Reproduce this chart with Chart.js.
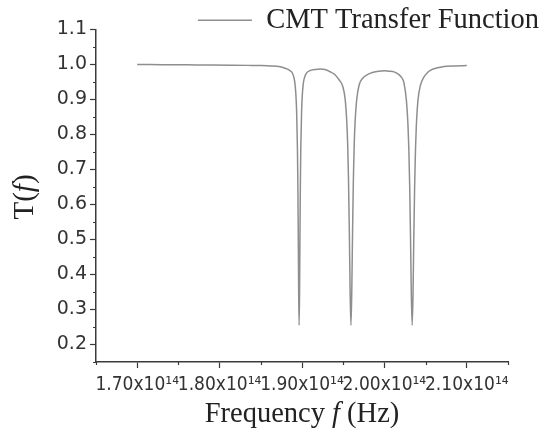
<!DOCTYPE html>
<html><head><meta charset="utf-8">
<script src="https://cdn.jsdelivr.net/npm/chart.js@4.4.0/dist/chart.umd.min.js"></script>
<style>html,body{margin:0;padding:0;background:#fff;}#wrap{width:544px;height:434px;position:relative;}</style>
</head><body><div id="wrap"><canvas id="c" width="544" height="434"></canvas></div>
<script>
// Frequency in units of 10^14 Hz
const freq = [
  1.700, 1.730, 1.760, 1.790, 1.815, 1.835, 1.850, 1.862, 1.872, 1.8785,
  1.8845, 1.8885, 1.8905, 1.8915, 1.8925, 1.8935, 1.8945, 1.8950, 1.8955, 1.8960,
  1.8965, 1.8970, 1.8975, 1.8980, 1.8985, 1.8995, 1.9005, 1.9015, 1.9025, 1.9045,
  1.9075, 1.9115, 1.9165, 1.922, 1.928, 1.9334, 1.9394, 1.9454, 1.9494, 1.9524,
  1.9544, 1.9554, 1.9564, 1.9574, 1.9584, 1.9594, 1.9604, 1.9614, 1.9624, 1.9634,
  1.9644, 1.9664, 1.9694, 1.9734, 1.9794, 1.9864, 1.9934, 2.000, 2.006, 2.0117,
  2.0177, 2.0217, 2.0237, 2.0267, 2.0287, 2.0297, 2.0307, 2.0317, 2.0327, 2.0337,
  2.0347, 2.0357, 2.0367, 2.0377, 2.0387, 2.0407, 2.0437, 2.0477, 2.0537, 2.060,
  2.072, 2.085, 2.100
];
const transmission = [
  1.000, 0.9995, 0.999, 0.9985, 0.998, 0.9975, 0.997, 0.996, 0.994, 0.990,
  0.984, 0.975, 0.960, 0.944, 0.917, 0.865, 0.755, 0.653, 0.507, 0.339,
  0.255, 0.339, 0.507, 0.653, 0.755, 0.865, 0.917, 0.944, 0.958, 0.972,
  0.980, 0.984, 0.986, 0.987, 0.986, 0.980, 0.972, 0.955, 0.938, 0.900,
  0.834, 0.775, 0.677, 0.530, 0.350, 0.255, 0.350, 0.530, 0.677, 0.775,
  0.834, 0.900, 0.942, 0.960, 0.971, 0.978, 0.981, 0.982, 0.981, 0.979,
  0.971, 0.960, 0.948, 0.897, 0.822, 0.755, 0.653, 0.507, 0.339, 0.255,
  0.339, 0.507, 0.653, 0.755, 0.822, 0.897, 0.940, 0.963, 0.980, 0.988,
  0.994, 0.996, 0.997
];
const xTicks = [1.70, 1.80, 1.90, 2.00, 2.10];
const xMinorTicks = [1.65, 1.75, 1.85, 1.95, 2.05, 2.15];
const yTicks = [0.2, 0.3, 0.4, 0.5, 0.6, 0.7, 0.8, 0.9, 1.0, 1.1];
const yMinorTicks = [0.15, 0.25, 0.35, 0.45, 0.55, 0.65, 0.75, 0.85, 0.95, 1.05];
const seriesName = 'CMT Transfer Function';
const xTitleParts = [['Frequency ', false], ['f', true], [' (Hz)', false]];
const yTitleParts = [['T(', false], ['f', true], [')', false]];

const AXIS = '#3a3a3a';
const SERIF = '"Liberation Serif", "Times New Roman", serif';
const SANS = '"DejaVu Sans", Verdana, sans-serif';
const SANS_C = '"DejaVu Sans Condensed", "DejaVu Sans", sans-serif';

function drawParts(ctx, parts, size) {
  let total = 0;
  const widths = parts.map(([t, it]) => {
    ctx.font = (it ? 'italic ' : '') + size + 'px ' + SERIF;
    const w = ctx.measureText(t).width; total += w; return w;
  });
  let x = -total / 2;
  parts.forEach(([t, it], i) => {
    ctx.font = (it ? 'italic ' : '') + size + 'px ' + SERIF;
    ctx.fillText(t, x, 0); x += widths[i];
  });
}

const extras = {
  id: 'extras',
  afterLayout(chart) {
    const lg = chart.legend;
    if (lg) { lg.top += 15; lg.bottom += 15; lg.left += 33; lg.right += 33; }
  },
  afterDraw(chart) {
    const ctx = chart.ctx;
    const xs = chart.scales.x, ys = chart.scales.y;
    ctx.save();
    ctx.strokeStyle = AXIS; ctx.lineWidth = 1.2;
    ctx.beginPath();
    xMinorTicks.forEach(v => {
      const px = Math.round(xs.getPixelForValue(v)) + 0.5;
      ctx.moveTo(px, xs.top); ctx.lineTo(px, xs.top + 3);
    });
    yMinorTicks.forEach(v => {
      const py = Math.round(ys.getPixelForValue(v)) + 0.5;
      ctx.moveTo(ys.right, py); ctx.lineTo(ys.right - 3, py);
    });
    ctx.stroke();
    ctx.fillStyle = '#222';
    ctx.textBaseline = 'middle'; ctx.textAlign = 'left';
    ctx.save();
    ctx.translate((chart.chartArea.left + chart.chartArea.right) / 2, 415);
    drawParts(ctx, xTitleParts, 28.5);
    ctx.restore();
    ctx.save();
    ctx.translate(25, 197); ctx.rotate(-Math.PI / 2);
    drawParts(ctx, yTitleParts, 29);
    ctx.restore();
    ctx.restore();
  }
};

new Chart(document.getElementById('c'), {
  type: 'line',
  data: {
    datasets: [{
      label: seriesName,
      data: freq.map((f, i) => ({ x: f, y: transmission[i] })),
      borderColor: '#8e8e8e',
      backgroundColor: '#8e8e8e',
      borderWidth: 1.5,
      pointRadius: 0,
      cubicInterpolationMode: 'monotone',
      fill: false
    }]
  },
  options: {
    responsive: false,
    animation: false,
    layout: { padding: { left: 0, right: 36, top: -11, bottom: 0 } },
    plugins: {
      tooltip: { enabled: false },
      legend: {
        position: 'top', align: 'end',
        labels: {
          usePointStyle: true, pointStyle: 'line', pointStyleWidth: 54,
          color: '#222', padding: 2,
          font: { family: SERIF, size: 28.5 }
        }
      }
    },
    scales: {
      x: {
        type: 'linear', min: 1.65, max: 2.15,
        afterBuildTicks: s => { s.ticks = xTicks.map(v => ({ value: v })); },
        afterFit: s => { s.height = 72; },
        grid: { drawOnChartArea: false, drawTicks: true, tickLength: 6, tickColor: AXIS, tickWidth: 1.2 },
        border: { display: true, color: AXIS, width: 1.5 },
        ticks: {
          autoSkip: false, maxRotation: 0, minRotation: 0, padding: 6,
          color: '#333', font: { family: SANS_C, size: 19 },
          callback: v => v.toFixed(2) + 'x10\u00B9\u2074'
        }
      },
      y: {
        type: 'linear', min: 0.15, max: 1.1,
        afterBuildTicks: s => { s.ticks = yTicks.map(v => ({ value: v })); },
        afterFit: s => { s.width = 96; },
        grid: { drawOnChartArea: false, drawTicks: true, tickLength: 6, tickColor: AXIS, tickWidth: 1.2 },
        border: { display: true, color: AXIS, width: 1.5 },
        ticks: {
          padding: 3, color: '#333', font: { family: SANS, size: 19 },
          callback: v => v.toFixed(1)
        }
      }
    }
  },
  plugins: [extras]
});
</script>
</body></html>
